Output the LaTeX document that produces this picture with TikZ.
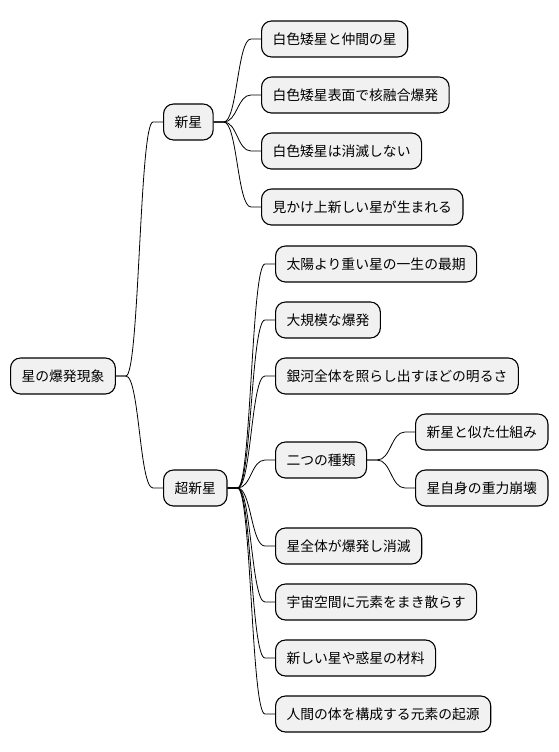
\documentclass[tikz,border=0pt]{standalone}
\usepackage{fontspec}
\newfontfamily\cjk{Noto Sans CJK JP}
\usetikzlibrary{calc}
\definecolor{boxfill}{HTML}{F1F1F1}

\begin{document}
\begin{tikzpicture}[x=1pt, y=-1pt,
  topic/.style={draw=black, fill=boxfill, line width=1.1pt, rounded corners=10pt,
    minimum height=36pt, inner xsep=11pt, anchor=west,
    font=\cjk\fontsize{13.8pt}{16pt}\selectfont},
  link/.style={draw=black, line width=0.8pt}]

\useasboundingbox (0,0) rectangle (558,752);

% 枝の曲線
\newcommand{\branchto}[2]{%
  \draw[link] let \p1=(#1.east), \p2=(#2.west), \n1={(\x2-\x1)/2} in
    (\p1) -- (\x1+10pt,\y1) .. controls (\x1+\n1,\y1) and (\x1+\n1,\y2) ..
    (\x2-10pt,\y2) -- (\p2);}

\node[topic] (root) at (10,376) {星の爆発現象};
\node[topic] (nova) at (163,122) {新星};
\node[topic] (snova) at (163,488) {超新星};

% 新星
\foreach \name/\ypos/\txt in {n1/39/白色矮星と仲間の星, n2/95/白色矮星表面で核融合爆発,
    n3/151/白色矮星は消滅しない, n4/207/見かけ上新しい星が生まれる}
  \node[topic] (\name) at (261,\ypos) {\txt};

% 超新星
\foreach \name/\ypos/\txt in {s1/264/太陽より重い星の一生の最期, s2/320/大規模な爆発,
    s3/376/銀河全体を照らし出すほどの明るさ, kinds/460/二つの種類,
    s5/546/星全体が爆発し消滅, s6/602/宇宙空間に元素をまき散らす,
    s7/658/新しい星や惑星の材料, s8/714/人間の体を構成する元素の起源}
  \node[topic] (\name) at (275,\ypos) {\txt};

\node[topic] (k1) at (415,432) {新星と似た仕組み};
\node[topic] (k2) at (415,488) {星自身の重力崩壊};

\branchto{root}{nova}
\branchto{root}{snova}
\foreach \c in {n1,n2,n3,n4} \branchto{nova}{\c};
\foreach \c in {s1,s2,s3,kinds,s5,s6,s7,s8} \branchto{snova}{\c};
\branchto{kinds}{k1}
\branchto{kinds}{k2}

\end{tikzpicture}
\end{document}
